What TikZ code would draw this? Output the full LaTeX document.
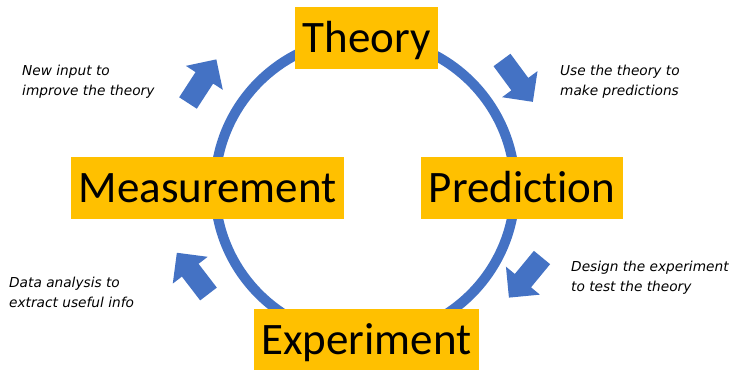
\documentclass[tikz,border=0pt]{standalone}
\usepackage{fontspec}
\setmainfont{Carlito}[Ligatures={NoCommon}]
\newfontfamily\handfont{DejaVu Sans}
\definecolor{boxyellow}{HTML}{FFC000}
\definecolor{cycleblue}{HTML}{4472C4}
\begin{document}
\begin{tikzpicture}[x=1pt,y=-1pt,
  stagebox/.style={fill=boxyellow, inner sep=0pt, font=\fontsize{45}{54}\selectfont,
    text height=29pt, text depth=0pt, minimum height=62pt},
  note/.style={font=\handfont\itshape\fontsize{13.7}{20}\selectfont, align=left, anchor=west, inner sep=0pt},
  flowarrow/.pic={\fill[cycleblue] (0,-10.5) -- (30,-10.5) -- (30,-22) -- (52,0) -- (30,22) -- (30,10.5) -- (0,10.5) -- cycle;}]
\useasboundingbox (0,0) rectangle (735,369);
\fill[white] (0,0) rectangle (735,369);
\draw[cycleblue, line width=10pt] (365,188) circle (150);
\node[stagebox, minimum width=143pt] (theory) at (366.5,38) {Theory};
\node[stagebox, minimum width=273pt] (measurement) at (207.5,188) {Measurement};
\node[stagebox, minimum width=202pt] (prediction) at (522,188) {Prediction};
\node[stagebox, minimum width=225pt] (experiment) at (366.5,340) {Experiment};
\pic[rotate=57] at (188,103) {flowarrow};
\pic[rotate=-53.6] at (502,60) {flowarrow};
\pic[rotate=127.5] at (208.5,294) {flowarrow};
\pic[rotate=-129.5] at (542,257.5) {flowarrow};
\node[note] (n1) at (22,82) {New input to\\improve the theory};
\node[note] (n2) at (560,82) {Use the theory to\\make predictions};
\node[note] (n3) at (9,292) {Data analysis to\\extract useful info};
\node[note] (n4) at (571,277.5) {Design the experiment\\to test the theory};
\end{tikzpicture}
\end{document}
